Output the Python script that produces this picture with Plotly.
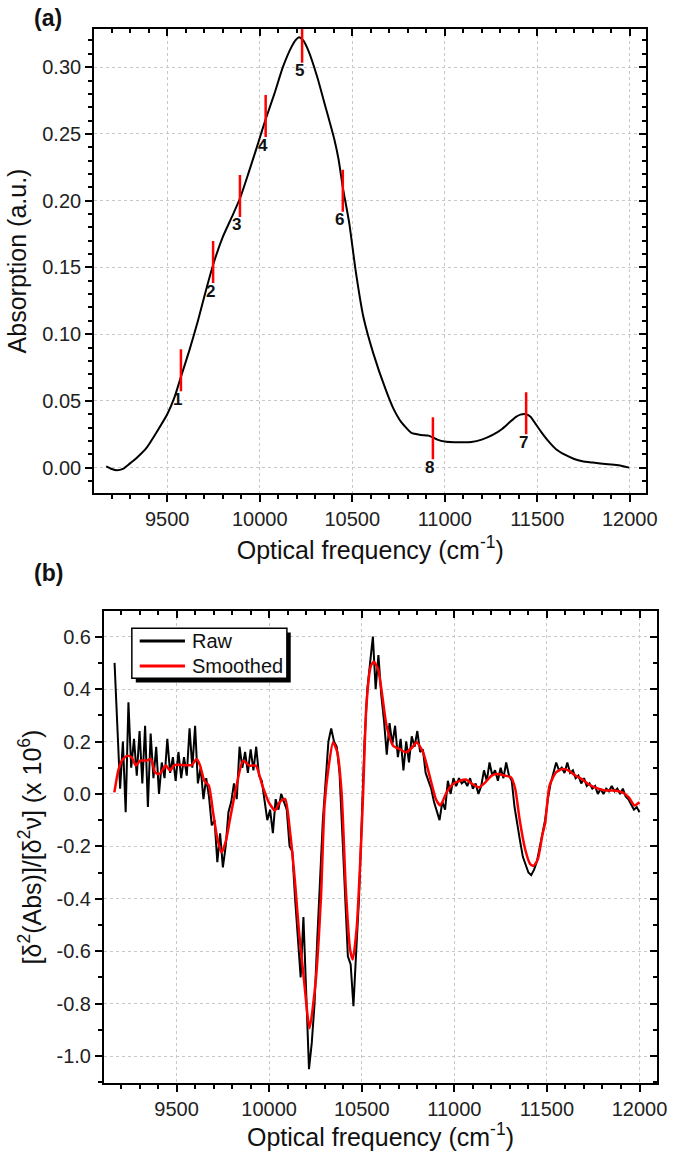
import plotly.graph_objects as go

W, H = 682, 1151
def px(x): return x / W
def py(y): return 1 - y / H

# ---------------- Panel (a): absorption spectrum ----------------
abs_x = [9170, 9200, 9228, 9260, 9297, 9340, 9389, 9440, 9500, 9540, 9574, 9620, 9666, 9700,
         9748, 9801, 9850, 9894, 9940, 9975, 10009, 10032, 10079, 10125, 10171, 10195, 10213,
         10235, 10264, 10310, 10356, 10403, 10426, 10449, 10484, 10519, 10560, 10613, 10682,
         10720, 10763, 10820, 10870, 10913, 10960, 11000, 11051, 11100, 11144, 11200, 11259,
         11310, 11351, 11385, 11409, 11439, 11465, 11490, 11520, 11559, 11600, 11652, 11700,
         11744, 11800, 11882, 11940, 11997]
abs_y = [0.001, -0.001, -0.002, -0.001, 0.003, 0.008, 0.015, 0.026, 0.040, 0.053, 0.068, 0.088,
         0.110, 0.128, 0.152, 0.173, 0.188, 0.202, 0.221, 0.236, 0.251, 0.261, 0.280, 0.300,
         0.315, 0.3205, 0.3225, 0.320, 0.312, 0.293, 0.270, 0.246, 0.231, 0.210, 0.183, 0.147,
         0.113, 0.086, 0.058, 0.045, 0.0345, 0.026, 0.0245, 0.024, 0.021, 0.0195, 0.019, 0.019,
         0.0192, 0.021, 0.0245, 0.029, 0.034, 0.038, 0.0397, 0.040, 0.038, 0.033, 0.027, 0.020,
         0.014, 0.0095, 0.0065, 0.0048, 0.0038, 0.0025, 0.0018, 0.0]

mark_labels = ["1", "2", "3", "4", "5", "6", "7", "8"]
mark_x = [9574, 9748, 9893, 10032, 10229, 10449, 11440, 10936]
mark_y = [0.073, 0.154, 0.2035, 0.2634, 0.319, 0.2075, 0.0408, 0.022]

# ---------------- Panel (b): second derivative ----------------
raw_x0, raw_step = 9165, 15
raw_y = [0.50, 0.24, 0.02, 0.20, -0.07, 0.35, 0.10, 0.21, 0.07, 0.24,
         0.04, 0.26, -0.05, 0.23, 0.06, 0.18, 0.00, 0.12, 0.06, 0.21,
         0.08, 0.14, 0.05, 0.16, 0.06, 0.14, 0.07, 0.25, 0.10, 0.26,
         0.04, 0.10, -0.02, 0.06, -0.01, -0.12, -0.10, -0.26, -0.15, -0.28,
         -0.20, -0.07, -0.03, 0.04, -0.02, 0.18, 0.10, 0.16, 0.08, 0.17,
         0.09, 0.18, 0.07, 0.05, -0.02, -0.10, -0.06, -0.15, -0.02, -0.06,
         0.00, -0.03, -0.06, -0.20, -0.22, -0.40, -0.55, -0.70, -0.47, -0.75,
         -1.05, -0.95, -0.80, -0.55, -0.30, -0.10, 0.05, 0.20, 0.25, 0.20,
         0.18, 0.08, -0.15, -0.40, -0.62, -0.65, -0.81, -0.60, -0.40, -0.10,
         0.20, 0.40, 0.50, 0.60, 0.40, 0.53, 0.38, 0.28, 0.15, 0.27,
         0.19, 0.26, 0.14, 0.21, 0.09, 0.20, 0.12, 0.22, 0.18, 0.24,
         0.16, 0.17, 0.08, 0.05, 0.02, -0.03, -0.07, -0.10, -0.03, -0.06,
         0.05, 0.00, 0.06, 0.03, 0.06, 0.04, 0.05, 0.03, 0.06, 0.02,
         0.04, 0.00, 0.03, 0.09, 0.05, 0.12, 0.07, 0.09, 0.05, 0.10,
         0.06, 0.12, 0.07, 0.05, -0.05, -0.12, -0.18, -0.24, -0.27, -0.30,
         -0.31, -0.29, -0.26, -0.21, -0.16, -0.10, -0.02, 0.04, 0.08, 0.12,
         0.09, 0.10, 0.08, 0.12, 0.08, 0.09, 0.06, 0.07, 0.04, 0.06,
         0.03, 0.04, 0.02, 0.03, 0.00, 0.02, 0.00, 0.02, 0.01, 0.03,
         0.01, 0.02, 0.00, 0.02, -0.01, -0.02, -0.04, -0.06, -0.05, -0.07]
raw_x = [raw_x0 + raw_step * i for i in range(len(raw_y))]

smooth_x = [9164, 9187, 9211, 9234, 9257, 9280, 9303, 9338, 9361, 9384, 9407, 9442, 9465, 9488,
            9535, 9581, 9609, 9627, 9650, 9674, 9697, 9720, 9743, 9766, 9789, 9824, 9859, 9894,
            9928, 9963, 9998, 10032, 10056, 10086, 10113, 10140, 10160, 10188, 10218, 10252,
            10280, 10299, 10322, 10345, 10368, 10391, 10414, 10437, 10451, 10472, 10495, 10507,
            10525, 10549, 10565, 10588, 10611, 10634, 10669, 10704, 10738, 10773, 10796, 10831,
            10866, 10900, 10924, 10958, 10993, 11028, 11062, 11097, 11132, 11167, 11201, 11236,
            11271, 11306, 11329, 11352, 11382, 11410, 11428, 11451, 11475, 11491, 11514, 11549,
            11584, 11618, 11653, 11688, 11722, 11769, 11815, 11861, 11907, 11942, 11972, 12000]
smooth_y = [0.006, 0.095, 0.133, 0.146, 0.140, 0.108, 0.127, 0.127, 0.133, 0.082, 0.076, 0.108,
            0.089, 0.110, 0.110, 0.110, 0.133, 0.108, 0.050, 0.032, -0.070, -0.170, -0.223,
            -0.180, -0.095, 0.032, 0.127, 0.108, 0.108, 0.032, -0.032, -0.063, -0.032, -0.019,
            -0.146, -0.340, -0.517, -0.709, -0.894, -0.709, -0.389, -0.044, 0.108, 0.197, 0.159,
            0.006, -0.364, -0.594, -0.632, -0.517, -0.210, -0.006, 0.336, 0.488, 0.504, 0.476,
            0.374, 0.260, 0.184, 0.171, 0.159, 0.178, 0.197, 0.159, 0.070, -0.019, -0.044,
            0.006, 0.038, 0.050, 0.055, 0.038, 0.025, 0.044, 0.070, 0.076, 0.070, 0.063, 0.019,
            -0.095, -0.210, -0.268, -0.274, -0.249, -0.159, -0.108, 0.032, 0.082, 0.095, 0.089,
            0.070, 0.057, 0.038, 0.022, 0.013, 0.013, 0.006, -0.013, -0.044, -0.032]

a_ytickvals = [0.0, 0.05, 0.10, 0.15, 0.20, 0.25, 0.30]
a_yticktext = ["0.00", "0.05", "0.10", "0.15", "0.20", "0.25", "0.30"]
b_ytickvals = [-1.0, -0.8, -0.6, -0.4, -0.2, 0.0, 0.2, 0.4, 0.6]
b_yticktext = ["-1.0", "-0.8", "-0.6", "-0.4", "-0.2", "0.0", "0.2", "0.4", "0.6"]
xtickvals = [9500, 10000, 10500, 11000, 11500, 12000]
xticktext = ["9500", "10000", "10500", "11000", "11500", "12000"]

FONT = "Liberation Sans, Arial, sans-serif"
TICKC = "#222222"
GRID = "#c8c8c8"

fig = go.Figure()
fig.add_trace(go.Scatter(x=abs_x, y=abs_y, mode="lines",
                         line=dict(color="black", width=2, shape="spline", smoothing=0.5),
                         xaxis="x", yaxis="y", showlegend=False, hoverinfo="skip"))
fig.add_trace(go.Scatter(x=mark_x, y=mark_y, mode="markers",
                         marker=dict(symbol="line-ns", size=30, color="red",
                                     line=dict(color="red", width=2.5)),
                         xaxis="x", yaxis="y", showlegend=False, hoverinfo="skip"))
fig.add_trace(go.Scatter(x=raw_x, y=raw_y, mode="lines", name="Raw",
                         line=dict(color="black", width=2), xaxis="x2", yaxis="y2",
                         showlegend=False))
fig.add_trace(go.Scatter(x=smooth_x, y=smooth_y, mode="lines", name="Smoothed",
                         line=dict(color="red", width=2.5, shape="spline", smoothing=0.6),
                         xaxis="x2", yaxis="y2", showlegend=False))
# helper empty traces for mirrored inward ticks
fig.add_trace(go.Scatter(x=[], y=[], xaxis="x3", yaxis="y3", showlegend=False))
fig.add_trace(go.Scatter(x=[], y=[], xaxis="x4", yaxis="y4", showlegend=False))

xr_a = [9105, 12090]
yr_a = [-0.019, 0.3286]
xr_b = [9108, 12094]
yr_b = [-1.104, 0.699]

def base_x(domain, rng, anchor, title):
    return dict(domain=domain, range=rng, anchor=anchor, showline=True, linecolor="black",
                linewidth=2, mirror=True, ticks="outside", ticklen=7, tickwidth=1.5,
                tickcolor="black", tickmode="array", tickvals=xtickvals, ticktext=xticktext,
                minor=dict(dtick=100, tick0=0, ticks="outside", ticklen=4, tickwidth=1.5,
                           tickcolor="black", showgrid=False),
                showgrid=True, gridcolor=GRID, gridwidth=1, griddash="dot", zeroline=False,
                tickfont=dict(family=FONT, size=20, color=TICKC),
                title=dict(text=title, font=dict(family=FONT, size=25, color="#111"), standoff=12))

def base_y(domain, rng, anchor, tv, tt, minor_dt, title):
    return dict(domain=domain, range=rng, anchor=anchor, showline=True, linecolor="black",
                linewidth=2, mirror=True, ticks="outside", ticklen=7, tickwidth=1.5,
                tickcolor="black", tickmode="array", tickvals=tv, ticktext=tt,
                minor=dict(dtick=minor_dt, tick0=0, ticks="outside", ticklen=4, tickwidth=1.5,
                           tickcolor="black", showgrid=False),
                showgrid=True, gridcolor=GRID, gridwidth=1, griddash="dot", zeroline=False,
                tickfont=dict(family=FONT, size=20, color=TICKC),
                title=dict(text=title, font=dict(family=FONT, size=25, color="#111"), standoff=8))

def mirror_ax(over, side, anchor, rng, tv, minor_dt):
    return dict(overlaying=over, side=side, anchor=anchor, range=rng, ticks="inside",
                ticklen=7, tickwidth=1.5, tickcolor="black", tickmode="array", tickvals=tv,
                minor=dict(dtick=minor_dt, tick0=0, ticks="inside", ticklen=4, tickwidth=1.5,
                           tickcolor="black", showgrid=False),
                showticklabels=False, showgrid=False, showline=False, zeroline=False)

xtitle = "Optical frequency (cm<sup>-1</sup>)"
fig.update_layout(
    width=W, height=H, margin=dict(l=0, r=0, t=0, b=0),
    paper_bgcolor="white", plot_bgcolor="white", font=dict(family=FONT),
    xaxis=base_x([px(95.7), px(657)], xr_a, "y", xtitle),
    yaxis=base_y([py(493), py(29)], yr_a, "x", a_ytickvals, a_yticktext, 0.01,
                 "Absorption (a.u.)"),
    xaxis2=base_x([px(105.7), px(667.7)], xr_b, "y2", xtitle),
    yaxis2=base_y([py(1083.3), py(610.7)], yr_b, "x2", b_ytickvals, b_yticktext, 0.1,
                  "[δ<sup>2</sup>(Abs)]/[δ<sup>2</sup>ν] (x 10<sup>6</sup>)"),
    xaxis3=mirror_ax("x", "top", "y", xr_a, xtickvals, 100),
    yaxis3=mirror_ax("y", "right", "x", yr_a, a_ytickvals, 0.01),
    xaxis4=mirror_ax("x2", "top", "y2", xr_b, xtickvals, 100),
    yaxis4=mirror_ax("y2", "right", "x2", yr_b, b_ytickvals, 0.1),
)

annotations = []
for lab, mx, my in zip(mark_labels, mark_x, mark_y):
    annotations.append(dict(x=mx, y=my, xref="x", yref="y", text=lab, showarrow=False,
                            xshift=-3, yshift=-29,
                            font=dict(family=FONT, size=17, color="#111", weight="bold")))
annotations.append(dict(x=px(33), y=py(18), xref="paper", yref="paper", text="(a)",
                        showarrow=False, xanchor="left", yanchor="middle",
                        font=dict(family=FONT, size=23, color="#111", weight="bold")))
annotations.append(dict(x=px(33), y=py(573), xref="paper", yref="paper", text="(b)",
                        showarrow=False, xanchor="left", yanchor="middle",
                        font=dict(family=FONT, size=23, color="#111", weight="bold")))
# manual legend texts
leg_items = [("Raw", "black", 641), ("Smoothed", "red", 666)]
shapes = [
    dict(type="rect", xref="paper", yref="paper", x0=px(138), x1=px(295.5), y0=py(682.5),
         y1=py(632.5), fillcolor="black", line=dict(width=0), layer="above"),
    dict(type="rect", xref="paper", yref="paper", x0=px(134), x1=px(291.6), y0=py(678.3),
         y1=py(628.3), fillcolor="white", line=dict(color="black", width=1.5), layer="above"),
]
for name, col, yy in leg_items:
    shapes.append(dict(type="line", xref="paper", yref="paper", x0=px(142), x1=px(188),
                       y0=py(yy), y1=py(yy), line=dict(color=col, width=3), layer="above"))
    annotations.append(dict(x=px(193), y=py(yy), xref="paper", yref="paper", text=name,
                            showarrow=False, xanchor="left", yanchor="middle",
                            font=dict(family=FONT, size=20, color="#111")))
fig.update_layout(annotations=annotations, shapes=shapes)

fig.write_html("out.html")
